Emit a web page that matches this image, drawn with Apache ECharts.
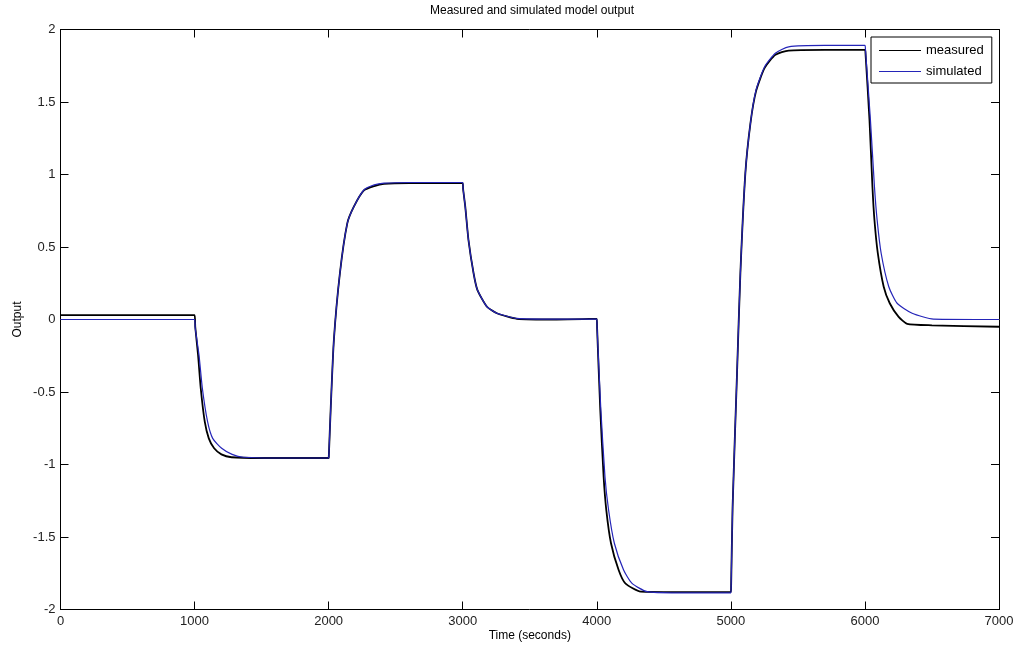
<!DOCTYPE html>
<html>
<head>
<meta charset="utf-8">
<title>Measured and simulated model output</title>
<script src="https://cdn.jsdelivr.net/npm/echarts@6/dist/echarts.min.js"></script>
<style>
  html, body { margin: 0; padding: 0; background: #fff; }
  #chart { width: 1019px; height: 651px; }
</style>
</head>
<body>
<div id="chart"></div>
<script>
// 读图得到的数据 (时间 s, 输出)
var measuredT = [0, 1000, 1005, 1026, 1046, 1076, 1106, 1146, 1200, 1275, 1500, 2000,
  2001, 2016, 2039, 2084, 2139, 2188, 2263, 2340, 2413, 2600, 3000,
  3003, 3019, 3043, 3081, 3110, 3181, 3255, 3404, 3700, 4000,
  4002, 4026, 4051, 4071, 4106, 4163, 4213, 4328, 4600, 5000,
  5002, 5013, 5046, 5071, 5108, 5146, 5188, 5252, 5332, 5431, 5700, 6000,
  6004, 6034, 6056, 6071, 6096, 6140, 6185, 6250, 6315, 6500, 7000]
var measuredV = [0.03, 0.03, -0.05, -0.245, -0.474, -0.705, -0.82, -0.888, -0.93, -0.95, -0.955, -0.955,
  -0.95, -0.6, -0.141, 0.319, 0.663, 0.778, 0.89, 0.92, 0.935, 0.94, 0.94,
  0.9, 0.778, 0.548, 0.319, 0.203, 0.088, 0.043, 0.005, 0.0, 0.005,
  -0.05, -0.624, -1.084, -1.314, -1.543, -1.728, -1.82, -1.877, -1.88, -1.88,
  -1.84, -1.291, -0.371, 0.319, 1.008, 1.353, 1.575, 1.735, 1.825, 1.855, 1.86, 1.86,
  1.84, 1.376, 0.916, 0.686, 0.457, 0.226, 0.112, 0.02, -0.03, -0.04, -0.05]

var simulatedT = [0, 1000, 1005, 1033, 1058, 1097, 1135, 1202, 1280, 1364, 1600, 2000,
  2001, 2016, 2039, 2084, 2139, 2188, 2263, 2340, 2413, 2600, 3000,
  3003, 3019, 3043, 3081, 3110, 3181, 3255, 3404, 3700, 4000,
  4002, 4029, 4061, 4088, 4131, 4200, 4263, 4375, 4600, 5000,
  5002, 5013, 5046, 5071, 5108, 5146, 5188, 5252, 5332, 5431, 5700, 6000,
  6004, 6041, 6071, 6091, 6121, 6178, 6240, 6352, 6511, 7000]
var simulatedV = [0, 0, -0.06, -0.245, -0.474, -0.705, -0.82, -0.888, -0.93, -0.95, -0.955, -0.955,
  -0.95, -0.6, -0.141, 0.319, 0.663, 0.778, 0.893, 0.928, 0.94, 0.945, 0.945,
  0.9, 0.778, 0.548, 0.319, 0.203, 0.088, 0.043, 0.008, 0.003, 0.003,
  -0.05, -0.6, -1.084, -1.314, -1.543, -1.728, -1.82, -1.877, -1.885, -1.885,
  -1.84, -1.291, -0.371, 0.319, 1.008, 1.353, 1.583, 1.743, 1.836, 1.88, 1.89, 1.89,
  1.86, 1.376, 0.916, 0.686, 0.457, 0.226, 0.112, 0.043, 0.003, 0.0]

var xTicks = [0, 1000, 2000, 3000, 4000, 5000, 6000, 7000]
var yTicks = [-2, -1.5, -1, -0.5, 0, 0.5, 1, 1.5, 2]

function pairs (ts, vs) {
  return ts.map(function (t, i) { return [t, vs[i]] })
}

var chart = echarts.init(document.getElementById('chart'))
var font = 'Liberation Sans, Arial, sans-serif'
var axisLine = { show: true, onZero: false, lineStyle: { color: '#000', width: 1 } }
var tick = { show: true, inside: true, length: 8, lineStyle: { color: '#000' } }
var blue = '#2424b8'

var option = {
  animation: false,
  backgroundColor: '#fff',
  title: {
    text: 'Measured and simulated model output',
    left: 425,
    top: 0,
    textStyle: { fontFamily: font, fontSize: 12, fontWeight: 'normal', color: '#000' }
  },
  legend: {
    orient: 'vertical',
    left: 871,
    top: 37,
    padding: [7, 8, 5, 8],
    itemGap: 8,
    itemWidth: 42,
    itemHeight: 1,
    backgroundColor: '#fff',
    borderColor: '#000',
    borderWidth: 1,
    textStyle: { fontFamily: font, fontSize: 13, color: '#000' },
    data: [
      { name: 'measured', icon: 'rect', itemStyle: { color: '#000' } },
      { name: 'simulated', icon: 'rect', itemStyle: { color: blue } }
    ]
  },
  grid: { left: 60.5, right: 20, top: 29.5, bottom: 41.5 },
  xAxis: [
    {
      type: 'value', min: 0, max: 7000, interval: 1000,
      name: 'Time (seconds)', nameLocation: 'middle', nameGap: 20, nameMoveOverlap: false,
      nameTextStyle: { fontFamily: font, fontSize: 12, color: '#000' },
      axisLine: axisLine, axisTick: tick,
      axisLabel: { fontFamily: font, fontSize: 13, color: '#222', margin: 5,
        formatter: function (v) { return xTicks.indexOf(v) >= 0 ? String(v) : '' } },
      splitLine: { show: false }
    },
    {
      type: 'value', min: 0, max: 7000, interval: 1000, position: 'top',
      axisLine: axisLine, axisTick: tick, axisLabel: { show: false }, splitLine: { show: false }
    }
  ],
  yAxis: [
    {
      type: 'value', min: -2, max: 2, interval: 0.5,
      name: 'Output', nameLocation: 'middle', nameGap: 37, nameMoveOverlap: false,
      nameTextStyle: { fontFamily: font, fontSize: 12, color: '#000' },
      axisLine: axisLine, axisTick: tick,
      axisLabel: { fontFamily: font, fontSize: 13, color: '#222', margin: 5,
        formatter: function (v) { return yTicks.indexOf(v) >= 0 ? String(v) : '' } },
      splitLine: { show: false }
    },
    {
      type: 'value', min: -2, max: 2, interval: 0.5, position: 'right',
      axisLine: axisLine, axisTick: tick, axisLabel: { show: false }, splitLine: { show: false }
    }
  ],
  series: [
    {
      name: 'measured',
      type: 'line',
      data: pairs(measuredT, measuredV),
      showSymbol: false,
      smooth: 0.2,
      color: '#000',
      lineStyle: { color: '#000', width: 1.8 }
    },
    {
      name: 'simulated',
      type: 'line',
      data: pairs(simulatedT, simulatedV),
      showSymbol: false,
      smooth: 0.2,
      color: blue,
      lineStyle: { color: blue, width: 1.2 }
    }
  ]
}
chart.setOption(option)
window.addEventListener('resize', function () {
  chart.resize()
})
</script>
</body>
</html>
